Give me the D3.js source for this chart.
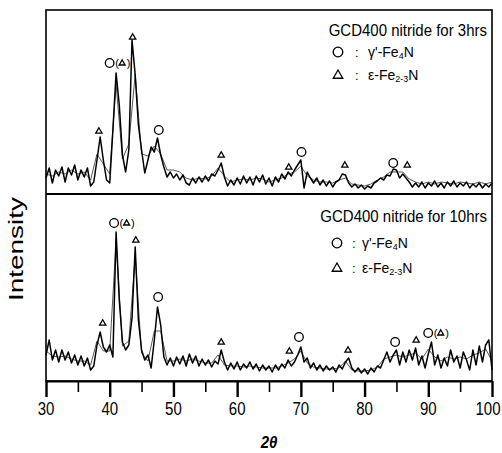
<!DOCTYPE html>
<html><head><meta charset="utf-8">
<script src="https://cdn.jsdelivr.net/npm/d3@7"></script>
<style>body{margin:0;background:#fff}svg{display:block}text{font-family:"Liberation Sans",Arial,sans-serif;fill:#000}</style>
</head><body>
<script>
// ---------- data ----------
const angleMin = 30, angleMax = 100;
const majorTicks = [30, 40, 50, 60, 70, 80, 90, 100];
const minorTicks = [35, 45, 55, 65, 75, 85, 95];
const xTitle = "2θ";
const yTitle = "Intensity";

// main traces sampled every 0.5° from 30 to 100 (arbitrary intensity units)
const top3hrsMain = [16,26,11,24,18,27,12,26,19,29,14,24,17,26,8,12,34,57,34,14,
  11,64,121,89,39,22,44,154,119,69,44,21,34,47,42,56,39,27,17,22,
  16,20,14,19,11,9,16,11,17,12,18,13,20,18,24,31,17,8,14,9,
  16,10,18,11,17,9,18,12,19,10,16,8,17,12,20,15,22,18,24,29,
  34,6,22,16,11,16,9,14,8,13,7,12,14,20,19,11,7,10,6,9,
  5,8,6,11,13,16,14,19,18,25,24,16,20,16,12,7,11,7,12,6,
  11,8,13,7,11,6,12,8,13,7,11,8,12,6,10,7,11,6,10,7,11];
// secondary (lighter) traces sampled every 1°
const top3hrsAlt = [20,18,22,20,24,20,22,14,40,30,20,110,35,50,120,40,38,48,40,24,
  24,22,16,14,16,15,18,26,18,12,14,15,14,16,15,12,14,16,20,22,
  28,18,14,12,12,11,14,16,10,9,8,10,14,17,22,22,22,15,12,10,
  12,10,12,11,10,12,11,10,12,10,12];
const bottom10hrsMain = [26,41,21,31,19,31,21,29,18,26,16,25,15,23,11,15,36,49,34,29,
  36,24,149,81,39,31,36,63,134,61,31,21,26,13,41,74,56,24,16,23,
  15,24,17,25,15,27,18,25,15,22,16,21,14,20,17,31,19,11,18,12,
  19,11,17,13,19,12,17,10,16,11,15,9,16,11,17,13,21,15,19,26,
  34,19,23,13,18,11,16,10,15,11,14,9,16,12,19,23,13,9,13,8,
  12,7,13,9,15,13,21,29,19,26,31,16,29,19,31,21,33,16,25,13,
  27,39,16,26,13,23,15,31,19,25,13,29,21,11,31,16,35,19,36,41,11];
const bottom10hrsAlt = [30,25,24,25,22,20,20,16,40,30,30,140,35,40,125,28,20,50,50,20,
  20,22,20,22,20,18,18,26,16,15,15,14,15,14,13,13,13,15,18,22,
  30,18,14,13,12,12,13,20,11,10,10,11,14,22,24,26,24,26,28,22,
  32,24,20,24,22,24,22,26,28,32,20];

// phase markers: angle, intensity level, symbol
const top3hrsMarkers = [
  {a:38.3, v:63, s:"tri"}, {a:41.4, v:131, s:"both"}, {a:43.6, v:157, s:"tri"},
  {a:47.7, v:64, s:"circ"}, {a:57.5, v:39, s:"tri"}, {a:68.1, v:27, s:"tri"},
  {a:70.1, v:42, s:"circ"}, {a:76.9, v:29, s:"tri"}, {a:84.5, v:31, s:"circ"},
  {a:86.7, v:29, s:"tri"}];
const bottom10hrsMarkers = [
  {a:38.9, v:58, s:"tri"}, {a:42.1, v:158, s:"both"}, {a:44.1, v:141, s:"tri"},
  {a:47.6, v:84, s:"circ"}, {a:57.5, v:39, s:"tri"}, {a:68.2, v:30, s:"tri"},
  {a:69.7, v:44, s:"circ"}, {a:77.4, v:31, s:"tri"}, {a:84.8, v:39, s:"circ"},
  {a:88.1, v:41, s:"tri"}, {a:91.4, v:48, s:"both"}];

const panelTitles = ["GCD400 nitride for 3hrs", "GCD400 nitride for 10hrs"];
const phaseLabels = [
  {sym:"circ", pre:"γ'-Fe", sub:"4", post:"N"},
  {sym:"tri",  pre:"ε-Fe", sub:"2-3", post:"N"}];

// ---------- drawing ----------
const W = 502, H = 453;
const L = 46, R = 492, T = 10, MID = 194, B = 381;
const svg = d3.select("body").append("svg").attr("width", W).attr("height", H);

const x = d3.scaleLinear().domain([angleMin, angleMax]).range([L, R]);
const yTop = d3.scaleLinear().domain([0, MID - T]).range([MID, T]);
const yBot = d3.scaleLinear().domain([0, B - MID]).range([B, MID]);

const fineAngles = d3.range(0, top3hrsMain.length).map(i => angleMin + i * 0.5);
const coarseAngles = d3.range(0, top3hrsAlt.length).map(i => angleMin + i);

function drawTrace(angles, vals, y, w, col) {
  const line = d3.line().x((d, i) => x(angles[i])).y(d => y(d));
  svg.append("path").datum(vals).attr("d", line)
    .attr("fill", "none").attr("stroke", col).attr("stroke-width", w)
    .attr("stroke-linejoin", "round");
}
drawTrace(coarseAngles, top3hrsAlt, yTop, 0.9, "#444");
drawTrace(fineAngles, top3hrsMain, yTop, 1.5, "#000");
drawTrace(coarseAngles, bottom10hrsAlt, yBot, 0.9, "#444");
drawTrace(fineAngles, bottom10hrsMain, yBot, 1.5, "#000");

// frame
svg.append("rect").attr("x", L).attr("y", T).attr("width", R - L).attr("height", B - T)
  .attr("fill", "none").attr("stroke", "#000").attr("stroke-width", 1.6);
svg.append("line").attr("x1", L).attr("x2", R).attr("y1", MID).attr("y2", MID)
  .attr("stroke", "#000").attr("stroke-width", 2);

// axis
const axMajor = svg.append("g").attr("transform", `translate(0,${B})`)
  .call(d3.axisBottom(x).tickValues(majorTicks).tickSize(16).tickSizeOuter(0).tickFormat(""));
const axMinor = svg.append("g").attr("transform", `translate(0,${B})`)
  .call(d3.axisBottom(x).tickValues(minorTicks).tickSize(11).tickSizeOuter(0).tickFormat(""));
axMajor.select(".domain").attr("stroke-width", 2.2);
axMinor.select(".domain").remove();
axMajor.selectAll(".tick line").attr("stroke-width", 2.4);
axMinor.selectAll(".tick line").attr("stroke-width", 1.6);

svg.selectAll(".xlab").data(majorTicks).enter().append("text")
  .attr("transform", d => `translate(${Math.min(x(d), W - 14)},415) scale(1,1.25)`)
  .attr("text-anchor", "middle").attr("font-size", 15).text(d => d);

svg.append("text").attr("transform", `translate(${(L + R) / 2},448) scale(1,1.15)`)
  .attr("text-anchor", "middle").attr("font-size", 15).attr("font-weight", "bold")
  .attr("font-style", "italic").text(xTitle);

svg.append("text").attr("transform", "translate(23,249) rotate(-90)")
  .attr("text-anchor", "middle").attr("font-size", 21)
  .attr("textLength", 104).attr("lengthAdjust", "spacingAndGlyphs").text(yTitle);

// markers
function tri(g, cx, cy, s) {
  g.append("path").attr("d", `M${cx},${cy - s}L${cx + s * 0.95},${cy + s * 0.65}L${cx - s * 0.95},${cy + s * 0.65}Z`)
    .attr("fill", "none").attr("stroke", "#000").attr("stroke-width", 1.3);
}
function circ(g, cx, cy, r) {
  g.append("circle").attr("cx", cx).attr("cy", cy).attr("r", r)
    .attr("fill", "none").attr("stroke", "#000").attr("stroke-width", 1.3);
}
function drawMarkers(list, y) {
  const g = svg.append("g");
  list.forEach(m => {
    const cx = x(m.a), cy = y(m.v);
    if (m.s === "tri") tri(g, cx, cy, 3.3);
    else if (m.s === "circ") circ(g, cx, cy, 4.3);
    else {
      circ(g, cx - 9, cy, 4.3);
      g.append("text").attr("x", cx - 3.5).attr("y", cy + 4).attr("font-size", 11).text("(");
      tri(g, cx + 3.5, cy, 3.1);
      g.append("text").attr("x", cx + 8).attr("y", cy + 4).attr("font-size", 11).text(")");
    }
  });
}
drawMarkers(top3hrsMarkers, yTop);
drawMarkers(bottom10hrsMarkers, yBot);

// legends
function legend(title, titleY, rowYs, symX, colonX, labX) {
  const g = svg.append("g");
  g.append("text").attr("transform", `translate(487,${titleY}) scale(1,1.15)`)
    .attr("text-anchor", "end").attr("font-size", 15).text(title);
  phaseLabels.forEach((p, i) => {
    const yy = rowYs[i];
    if (p.sym === "circ") circ(g, symX, yy - 5, 4.8); else tri(g, symX, yy - 5, 5);
    g.append("text").attr("x", colonX).attr("y", yy).attr("font-size", 13).text(":");
    const t = g.append("text").attr("transform", `translate(${labX},${yy}) scale(1,1.1)`).attr("font-size", 14);
    t.append("tspan").text(p.pre);
    t.append("tspan").attr("font-size", 9).attr("dy", 2).text(p.sub);
    t.append("tspan").attr("dy", -2).text(p.post);
  });
}
legend(panelTitles[0], 36, [57, 80], 338, 355, 368);
legend(panelTitles[1], 222, [248, 273], 337, 352, 362);
</script>
</body></html>
